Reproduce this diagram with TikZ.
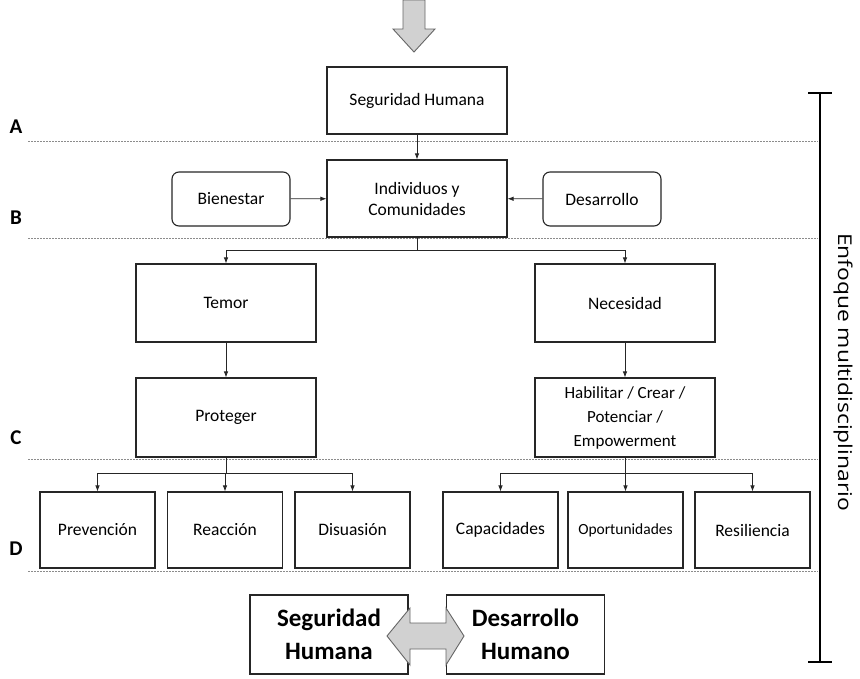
\documentclass[tikz,border=0pt]{standalone}
\usepackage{fontspec}
\setmainfont{Carlito}
\newfontfamily\sidefont{Open Sans}
\usepackage{tikz}
\usetikzlibrary{arrows.meta}
\tikzset{
	box/.style={draw=black!85, line width=1.1pt, fill=white, align=center,
			minimum width=#1, minimum height=78pt, inner sep=2pt, font=\fontsize{17.5}{21}\selectfont},
	box/.default=180pt,
	soft/.style={box=118pt, rounded corners=7pt, minimum height=54pt},
	leaf/.style={box=115pt, minimum height=76pt},
	big/.style={box=158pt, minimum height=79pt, font=\bfseries\fontsize{25}{33}\selectfont},
	arr/.style={-{Latex[length=6pt,width=4.5pt]}, line width=0.8pt, black!85},
	level/.style={draw=black!45, line width=0.7pt, dash pattern=on 2pt off 1pt},
	tag/.style={font=\bfseries\fontsize{21}{23}\selectfont},
	fat/.style={draw=black!60, fill=black!18, line width=0.9pt, line join=miter}
}

\begin{document}
\begin{tikzpicture}[x=1pt,y=-1pt]
	\useasboundingbox (0,0) rectangle (860,678);
	% level lines
	\foreach \yy/\name in {141/A,238/B,459/C,571/D}
	\draw[level] (28,\yy) -- (818,\yy);
	\node[tag] (tagA) at (16,127) {A};
	\node[tag] (tagB) at (16,218) {B};
	\node[tag] (tagC) at (16,438) {C};
	\node[tag] (tagD) at (16,549) {D};
	% incoming arrow
	\draw[fat] (403,0) -- (425,0) -- (425,29) -- (435,29) -- (414,52)
	-- (393,29) -- (403,29) -- cycle;
	% boxes
	\node[box, minimum height=67pt] (segu) at (417,100.5) {Seguridad Humana};
	\node[box, minimum height=77pt] (indiv) at (417,198.5) {Individuos y\\Comunidades};
	\node[soft] (bien) at (231,199) {Bienestar};
	\node[soft] (desa) at (602,199) {Desarrollo};
	\node[box] (temor) at (226,303) {Temor};
	\node[box] (neces) at (625,303) {Necesidad};
	\node[box, minimum height=79pt] (prot) at (226,417.5) {Proteger};
	\node[box, minimum height=79pt, font=\fontsize{17}{24}\selectfont] (habil) at (625,417.5)
	{Habilitar / Crear /\\Potenciar /\\Empowerment};
	\node[leaf] (prev) at (97.5,530) {Prevención};
	\node[leaf] (reac) at (225,530) {Reacción};
	\node[leaf] (disu) at (352.5,530) {Disuasión};
	\node[leaf] (capa) at (500.5,530) {Capacidades};
	\node[leaf, font=\fontsize{15.5}{18}\selectfont] (opor) at (625.5,530) {Oportunidades};
	\node[leaf] (resi) at (752.5,530) {Resiliencia};
	% connectors
	\draw[arr] (segu) -- (indiv);
	\draw[arr] (bien) -- (indiv);
	\draw[arr] (desa) -- (indiv);
	\coordinate (forkB) at (417,250);
	\draw[line width=0.8pt, black!85] (indiv.south) -- (forkB);
	\draw[arr] (forkB) -| (temor.north);
	\draw[arr] (forkB) -| (neces.north);
	\draw[arr] (temor) -- (prot);
	\draw[arr] (neces) -- (habil);
	\coordinate (forkL) at (226,473);
	\coordinate (forkR) at (625,473);
	\draw[line width=0.8pt, black!85] (prot.south) -- (forkL);
	\draw[line width=0.8pt, black!85] (habil.south) -- (forkR);
	\foreach \leaf in {prev,reac,disu}
	\draw[arr] (forkL) -| (\leaf.north);
	\foreach \leaf in {capa,opor,resi}
	\draw[arr] (forkR) -| (\leaf.north);
	% bottom pair
	\node[big] (segh) at (329,634.5) {Seguridad\\Humana};
	\node[big] (desh) at (525.5,634.5) {Desarrollo\\Humano};
	\draw[fat] (387,636) -- (410,608) -- (410,623) -- (446,623) -- (446,608)
	-- (464,636) -- (446,665) -- (446,649) -- (410,649) -- (410,665) -- cycle;
	% side bracket
	\draw[line width=2.6pt] (820,93) -- (820,662);
	\draw[line width=2.6pt] (808,93) -- (832,93);
	\draw[line width=2.6pt] (808,662) -- (832,662);
	\node[rotate=-90, font=\sidefont\fontsize{19}{21}\selectfont] (enfo) at (843,372)
	{\scalebox{1.2}[1]{Enfoque multidisciplinario}};
\end{tikzpicture}
\end{document}
